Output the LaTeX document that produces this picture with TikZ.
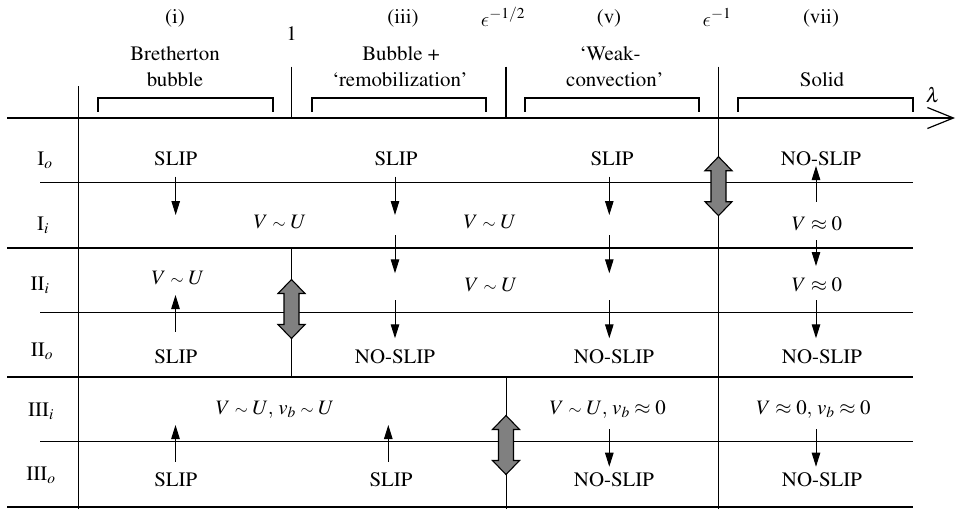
\documentclass[tikz,border=0pt]{standalone}
\usepackage[T1]{fontenc}
\usepackage{mathptmx}
\usepackage{graphicx}
\usetikzlibrary{arrows.meta}
\DeclareSymbolFont{cmlet}{OML}{cmm}{m}{it}
\DeclareMathSymbol{\lepsilon}{\mathord}{cmlet}{"0F}
\newcommand\tsim{\mathrel{\scalebox{0.8}{$\sim$}}}
\newsavebox\txtbox

\begin{document}
\begin{tikzpicture}[x=1pt,y=-1pt,
  txt/.style={font=\fontsize{20.5}{23}\selectfont, inner sep=0pt, anchor=base,
    execute at begin node={\begin{lrbox}{\txtbox}},
    execute at end node={\end{lrbox}\scalebox{1.02}[1]{\usebox{\txtbox}}}},
  major/.style={line width=1.7pt},
  minor/.style={line width=1.1pt},
  thin/.style={line width=1pt},
  sarrow/.style={line width=1pt, -{Triangle[length=14pt,width=8.5pt]}},
  darrow/.pic={\draw[fill=black!50, line width=1.1pt]
     (0,-29.5) -- (13.5,-15.5) -- (7.5,-15.5) -- (7.5,15.5) -- (13.5,15.5) -- (0,29.5)
     -- (-13.5,15.5) -- (-7.5,15.5) -- (-7.5,-15.5) -- (-13.5,-15.5) -- cycle;}]
\useasboundingbox (0,0) rectangle (956,509);

% horizontal lines
\coordinate (ax0) at (7,118);
\coordinate (ax1) at (955,118);
\draw[major, -{Straight Barb[length=26pt,width=21pt,line width=1.2pt]}] (ax0) -- (ax1);
\coordinate (h1a) at (40,182.5);  \coordinate (h1b) at (913,182.5);
\coordinate (h2a) at (7,248);     \coordinate (h2b) at (913,248);
\coordinate (h3a) at (40,312.5);  \coordinate (h3b) at (913,312.5);
\coordinate (h4a) at (7,377);     \coordinate (h4b) at (913,377);
\coordinate (h5a) at (40,441.5);  \coordinate (h5b) at (913,441.5);
\coordinate (h6a) at (7,507);     \coordinate (h6b) at (913,507);
\draw[minor] (h1a) -- (h1b);
\draw[major] (h2a) -- (h2b);
\draw[minor] (h3a) -- (h3b);
\draw[major] (h4a) -- (h4b);
\draw[minor] (h5a) -- (h5b);
\draw[major] (h6a) -- (h6b);

% vertical lines
\coordinate (v0a) at (78.5,86);   \coordinate (v0b) at (78.5,509);
\draw[major] (v0a) -- (v0b);
\coordinate (v1a) at (291.5,66.7); \coordinate (v1b) at (291.5,118);
\coordinate (v1c) at (291.5,248); \coordinate (v1d) at (291.5,377);
\draw[minor] (v1a) -- (v1b);
\draw[thin] (v1c) -- (v1d);
\coordinate (v2a) at (506,66.7); \coordinate (v2b) at (506,118);
\coordinate (v2c) at (506,377); \coordinate (v2d) at (506,509);
\draw[minor] (v2a) -- (v2b);
\draw[thin] (v2c) -- (v2d);
\coordinate (v3a) at (718.5,66.7); \coordinate (v3b) at (718.5,509);
\draw[thin] (v3a) -- (v3b);

% brackets
\draw[major] (97.7,111.7) -- (97.7,98.3) -- (272.7,98.3) -- (272.7,111.7);
\draw[major] (311.7,111.7) -- (311.7,98.3) -- (486,98.3) -- (486,111.7);
\draw[major] (525,111.7) -- (525,98.3) -- (699.3,98.3) -- (699.3,111.7);
\draw[major] (738.3,111.7) -- (738.3,98.3) -- (913.3,98.3) -- (913.3,111.7);

% double arrows
\pic at (291.5,309) {darrow};
\pic at (506,445) {darrow};
\pic at (718.5,186.2) {darrow};

% header texts
\node[txt] (ci) at (175,23) {(i)};
\node[txt] (ciii) at (403,23) {(iii)};
\node[txt] (cv) at (609,23) {(v)};
\node[txt] (cvii) at (821,23) {(vii)};
\node[txt] (one) at (291.7,40) {1};
\node[txt] (eps12) at (503,26) {$\lepsilon^{-1/2}$};
\node[txt] (eps1) at (717,26) {$\lepsilon^{-1}$};
\node[txt] (b1) at (175,60.5) {Bretherton};
\node[txt] (b2) at (175,86) {bubble};
\node[txt] (r1) at (401,60.5) {Bubble +};
\node[txt] (r2) at (400,86) {`remobilization'};
\node[txt] (w1) at (610,60.5) {`Weak-};
\node[txt] (w2) at (615,86) {convection'};
\node[txt] (so) at (822,86) {Solid};
\node[txt] (lam) at (933,102) {$\lambda$};

% row labels
\node[txt] (lIo) at (45,165) {$\mathrm{I}_o$};
\node[txt] (lIi) at (43,230) {$\mathrm{I}_i$};
\node[txt] (lIIi) at (40,290) {$\mathrm{II}_i$};
\node[txt] (lIIo) at (42,356) {$\mathrm{II}_o$};
\node[txt] (lIIIi) at (41,416.5) {$\mathrm{III}_i$};
\node[txt] (lIIIo) at (41,480.5) {$\mathrm{III}_o$};

% column 1
\node[txt] (s11) at (175.7,165) {SLIP};
\node[txt] (v12) at (280,228.3) {$V\tsim U$};
\node[txt] (v13) at (178,284) {$V\tsim U$};
\node[txt] (s14) at (175.8,363.3) {SLIP};
\node[txt] (v15) at (275,414.3) {$V\tsim U,\, v_b\tsim U$};
\node[txt] (s16) at (175.8,486.7) {SLIP};
% column 2
\node[txt] (s21) at (396,165) {SLIP};
\node[txt] (v22) at (490,228.3) {$V\tsim U$};
\node[txt] (v23) at (491,291.5) {$V\tsim U$};
\node[txt] (n24) at (395,363.3) {NO-SLIP};
\node[txt] (s26) at (391,486.7) {SLIP};
% column 3
\node[txt] (s31) at (612,165) {SLIP};
\node[txt] (n34) at (614,363.3) {NO-SLIP};
\node[txt] (v35) at (607.7,414.3) {$V\tsim U,\, v_b\approx 0$};
\node[txt] (n36) at (614,486.7) {NO-SLIP};
% column 4
\node[txt] (n41) at (821,165) {NO-SLIP};
\node[txt] (v42) at (817,230) {$V\approx 0$};
\node[txt] (v43) at (817,291.5) {$V\approx 0$};
\node[txt] (n44) at (822,363.3) {NO-SLIP};
\node[txt] (v45) at (813.5,414.3) {$V\approx 0,\, v_b\approx 0$};
\node[txt] (n46) at (822,486.7) {NO-SLIP};

% small arrows
\coordinate (a1s) at (175.7,176.7); \coordinate (a1e) at (175.7,215);
\coordinate (a2s) at (175.5,331.7); \coordinate (a2e) at (175.5,295);
\coordinate (a3s) at (175.5,461.7); \coordinate (a3e) at (175.5,425);
\draw[sarrow] (a1s) -- (a1e);
\draw[sarrow] (a2s) -- (a2e);
\draw[sarrow] (a3s) -- (a3e);

\coordinate (b1s) at (395,176.7); \coordinate (b1e) at (395,215);
\coordinate (b2s) at (395,235);   \coordinate (b2e) at (395,273.3);
\coordinate (b3s) at (395,300);   \coordinate (b3e) at (395,338.3);
\coordinate (b4s) at (388.3,461.7); \coordinate (b4e) at (388.3,425);
\draw[sarrow] (b1s) -- (b1e);
\draw[sarrow] (b2s) -- (b2e);
\draw[sarrow] (b3s) -- (b3e);
\draw[sarrow] (b4s) -- (b4e);

\coordinate (c1s) at (609.3,176.7); \coordinate (c1e) at (609.3,215);
\coordinate (c2s) at (609.3,235);   \coordinate (c2e) at (609.3,273.3);
\coordinate (c3s) at (609.3,300);   \coordinate (c3e) at (609.3,338.3);
\coordinate (c4s) at (609.3,429);   \coordinate (c4e) at (609.3,466.7);
\draw[sarrow] (c1s) -- (c1e);
\draw[sarrow] (c2s) -- (c2e);
\draw[sarrow] (c3s) -- (c3e);
\draw[sarrow] (c4s) -- (c4e);

\coordinate (d1s) at (816,201.7); \coordinate (d1e) at (816,166);
\coordinate (d2s) at (816,240);   \coordinate (d2e) at (816,266);
\coordinate (d3s) at (816,300);   \coordinate (d3e) at (816,338.3);
\coordinate (d4s) at (816,429);   \coordinate (d4e) at (816,466.7);
\draw[sarrow] (d1s) -- (d1e);
\draw[sarrow] (d2s) -- (d2e);
\draw[sarrow] (d3s) -- (d3e);
\draw[sarrow] (d4s) -- (d4e);
\end{tikzpicture}
\end{document}
